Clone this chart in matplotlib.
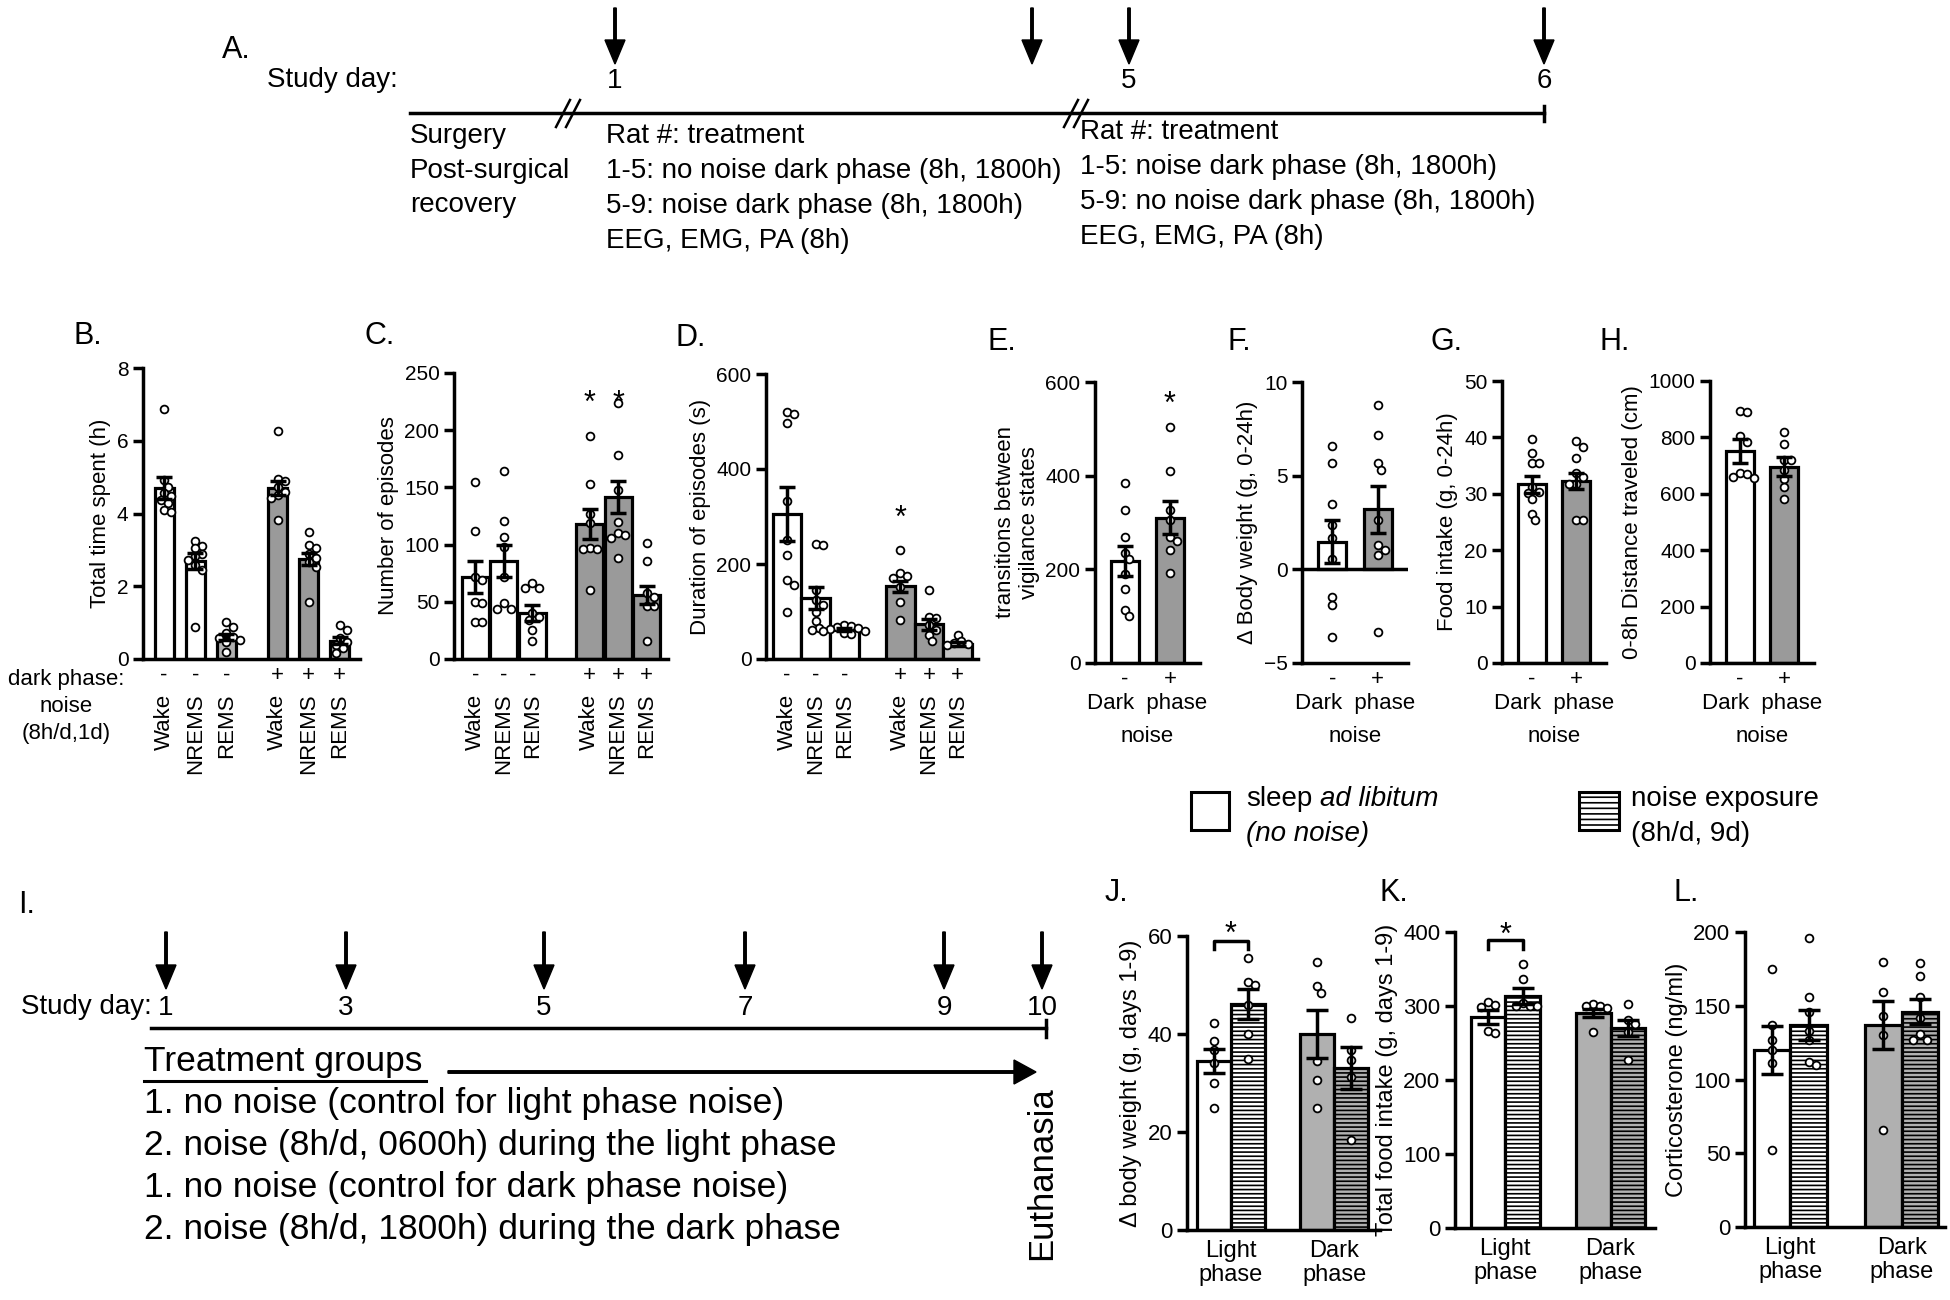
import numpy as np
import matplotlib.pyplot as plt
from matplotlib.patches import Rectangle, FancyArrow

plt.rcParams['font.family'] = ['Liberation Sans', 'DejaVu Sans']
plt.rcParams['hatch.linewidth'] = 1.2

# ---- data ----
states = ['Wake', 'NREMS', 'REMS', 'Wake', 'NREMS', 'REMS']
signs6 = ['-', '-', '-', '+', '+', '+']

time_mean = [4.7, 2.7, 0.6, 4.7, 2.75, 0.5]
time_err = [0.3, 0.22, 0.08, 0.2, 0.17, 0.1]
time_pts = [[6.87, 4.93, 4.74, 4.56, 4.47, 4.38, 4.28, 4.1, 4.05],
            [3.25, 3.12, 3.05, 2.9, 2.82, 2.72, 2.59, 2.45, 0.89],
            [1.03, 0.89, 0.71, 0.61, 0.57, 0.52, 0.48, 0.2],
            [6.26, 4.94, 4.88, 4.74, 4.6, 4.51, 4.42, 3.83],
            [3.5, 3.14, 3.05, 2.9, 2.77, 2.68, 2.54, 1.58],
            [0.94, 0.8, 0.57, 0.48, 0.39, 0.29, 0.16]]

epi_num_mean = [72, 86, 40, 118, 142, 56]
epi_num_err = [14, 14, 7, 13, 14, 8]
epi_num_pts = [[155, 112, 72, 69, 50, 49, 32, 32],
               [164, 121, 107, 98, 72, 49, 44, 44],
               [66, 62, 62, 40, 37, 34, 25, 16],
               [195, 153, 127, 119, 97, 96, 96, 60],
               [224, 178, 148, 120, 110, 108, 106, 88],
               [101, 86, 58, 54, 46, 46, 16]]

epi_dur_mean = [305, 128, 62, 153, 73, 32]
epi_dur_err = [57, 23, 4, 12, 11, 4]
epi_dur_pts = [[521, 516, 497, 332, 251, 219, 167, 156, 100],
               [242, 240, 145, 124, 114, 100, 79, 65, 61],
               [72, 70, 68, 66, 64, 60, 58, 55, 52],
               [230, 181, 174, 170, 152, 121, 82],
               [145, 89, 86, 72, 61, 51, 37],
               [51, 37, 33, 32, 30]]

signs2 = ['-', '+']
trans_mean = [218, 310]
trans_err = [32, 35]
trans_pts = [[384, 326, 270, 235, 221, 189, 157, 114, 100],
             [504, 409, 326, 306, 270, 260, 242, 192]]

bw_mean = [1.47, 3.2]
bw_err = [1.15, 1.25]
bw_pts = [[6.57, 5.65, 3.5, 2.36, 1.65, 0.53, -1.46, -1.9, -3.59],
          [8.79, 7.19, 5.65, 5.29, 2.63, 1.3, 1.03, 0.76, -3.37]]

food_mean = [31.7, 32.3]
food_err = [1.5, 1.4]
food_pts = [[39.8, 37.2, 35.5, 35.5, 31.2, 30.4, 30.1, 29.0, 26.5, 25.3],
            [39.3, 38.3, 36.3, 33.6, 33.0, 31.8, 31.8, 25.3, 25.3]]

dist_mean = [751, 696]
dist_err = [42, 33]
dist_pts = [[895, 890, 805, 785, 675, 670, 660, 655],
            [820, 776, 720, 720, 684, 654, 625, 580]]

phases = ['Light\nphase', 'Dark\nphase']
dbw_mean = [34.5, 46.1, 40.1, 33.1]
dbw_err = [2.5, 3.1, 4.9, 4.3]
dbw_pts = [[42.2, 38.6, 36.7, 34.0, 29.9, 24.8],
           [55.6, 50.7, 50.0, 45.9, 40.1, 35.0],
           [54.6, 49.8, 48.4, 34.4, 30.6, 24.8],
           [43.2, 36.7, 34.7, 31.3, 18.4]]

tfi_mean = [285, 314, 290, 270]
tfi_err = [9.5, 11, 5.5, 10.5]
tfi_pts = [[306, 301, 299, 266, 264],
           [357, 337, 304, 300, 300, 300],
           [303, 300, 300, 297, 265],
           [303, 281, 276, 265, 227]]

cort_mean = [120, 137, 137, 146]
cort_err = [16.5, 10, 16, 8.5]
cort_pts = [[175, 137, 127, 120, 111, 52],
            [196, 156, 146, 133, 127, 112, 110],
            [180, 159, 143, 130, 66],
            [179, 170, 156, 142, 131, 127, 127]]

a_days = ['1', '', '5', '6']
i_days = ['1', '3', '5', '7', '9', '10']

GRAY = '#9a9a9a'
LGRAY = '#b0b0b0'

W, H = 1950, 1300
fig = plt.figure(figsize=(W / 100, H / 100), dpi=100)

ov = fig.add_axes([0, 0, 1, 1], zorder=0)
ov.set_xlim(0, W)
ov.set_ylim(H, 0)
ov.axis('off')


def txt(x, y, s, size=20, **kw):
    kw.setdefault('va', 'center')
    ov.text(x, y, s, fontsize=size, **kw)


def swarm(vals, ypx, d=7.0):
    # spread overlapping points sideways, in pixel units
    placed, out = [], []
    s = 0.5 * d
    for v in vals:
        y = v * ypx
        for k in range(60):
            m = (k + 1) // 2
            x = m * s * (1 if k % 2 else -1)
            if all(np.hypot(x - px, y - py) >= d for px, py in placed):
                break
        placed.append((x, y))
        out.append(x)
    return np.array(out)


def star(ax, x, y, size=22):
    ax.annotate('*', xy=(x, y), xytext=(0, -13), textcoords='offset points',
                ha='center', va='baseline', fontsize=size, annotation_clip=False)


def panel(rect, xpos, xlim, width, means, errs, pts, colors, hatches,
          ylim, yticks, ylabel, capsize=6):
    l, t, r, b = rect
    ax = fig.add_axes([l / W, 1 - b / H, (r - l) / W, (b - t) / H])
    ax.patch.set_alpha(0)
    bars = ax.bar(xpos, means, width=width, color=colors, edgecolor='black',
                  linewidth=2.3, zorder=2)
    for p, h in zip(bars, hatches):
        if h:
            p.set_hatch(h)
    xpx = (r - l) / (xlim[1] - xlim[0])
    ypx = (b - t) / (ylim[1] - ylim[0])
    for x, v in zip(xpos, pts):
        offs = swarm(v, ypx) / xpx
        ax.plot(x + offs, v, 'o', ms=5.6, mfc='white', mec='black', mew=1.3,
                zorder=3, clip_on=False)
    ax.errorbar(xpos, means, yerr=errs, fmt='none', ecolor='black',
                elinewidth=2.5, capsize=capsize, capthick=2.5, zorder=4)
    ax.set_xlim(xlim)
    ax.set_ylim(ylim)
    ax.set_yticks(yticks)
    ax.set_ylabel(ylabel, fontsize=16)
    for s in ['top', 'right']:
        ax.spines[s].set_visible(False)
    for s in ['left', 'bottom']:
        ax.spines[s].set_linewidth(2.5)
    ax.tick_params(axis='y', length=7, width=2.5, labelsize=15)
    ax.tick_params(axis='x', length=0, labelsize=16, pad=4)
    return ax


def state_labels(ax, xpos):
    ax.set_xticks(xpos, signs6)
    for x, s in zip(xpos, states):
        ax.annotate(s, xy=(x, 0), xycoords=('data', 'axes fraction'),
                    xytext=(0, -25), textcoords='offset points', rotation=90,
                    ha='center', va='top', fontsize=16)


def noise_labels(ax):
    ax.set_xticks([0, 1], signs2)
    ax.annotate('Dark  phase', xy=(0.5, 0), xycoords=('data', 'axes fraction'),
                xytext=(0, -29), textcoords='offset points', ha='center',
                va='center', fontsize=16)
    ax.annotate('noise', xy=(0.5, 0), xycoords=('data', 'axes fraction'),
                xytext=(0, -53), textcoords='offset points', ha='center',
                va='center', fontsize=16)


# ---- B ----
pos_b = [0, 1, 2, 3.65, 4.65, 5.65]
ax = panel((143, 368, 360, 659), pos_b, (-0.68, 6.3), 0.62, time_mean, time_err,
           time_pts, ['white', 'white', LGRAY, GRAY, GRAY, LGRAY], [None] * 6,
           (0, 8), [0, 2, 4, 6, 8], 'Total time spent (h)')
state_labels(ax, pos_b)

# ---- C ----
pos_c = [0, 1, 2, 4, 5, 6]
ax = panel((454, 373, 668, 659), pos_c, (-0.75, 6.75), 0.95, epi_num_mean,
           epi_num_err, epi_num_pts, ['white'] * 3 + [GRAY] * 3, [None] * 6,
           (0, 250), [0, 50, 100, 150, 200, 250], 'Number of episodes')
state_labels(ax, pos_c)
star(ax, pos_c[3], 232)
star(ax, pos_c[4], 232)

# ---- D ----
pos_d = [0, 1, 2, 3.95, 4.95, 5.95]
ax = panel((766, 374, 978, 659), pos_d, (-0.73, 6.66), 1.0, epi_dur_mean,
           epi_dur_err, epi_dur_pts, ['white'] * 3 + [GRAY, GRAY, '#c4c4c4'],
           [None] * 6, (0, 600), [0, 200, 400, 600], 'Duration of episodes (s)')
state_labels(ax, pos_d)
star(ax, pos_d[3], 317)

# ---- E-H ----
pos2 = [0, 1]
xl2 = (-0.67, 1.67)
ax = panel((1095, 382, 1200, 663), pos2, xl2, 0.62, trans_mean, trans_err,
           trans_pts, ['white', GRAY], [None, None], (0, 600), [0, 200, 400, 600],
           'transitions between\nvigilance states')
noise_labels(ax)
star(ax, 1, 573)

ax = panel((1302, 382, 1408, 663), pos2, xl2, 0.62, bw_mean, bw_err, bw_pts,
           ['white', GRAY], [None, None], (-5, 10), [-5, 0, 5, 10],
           '\u0394 Body weight (g, 0-24h)')
ax.axhline(0, color='black', lw=2.5, zorder=5)
noise_labels(ax)

ax = panel((1502, 381, 1606, 663), pos2, xl2, 0.62, food_mean, food_err,
           food_pts, ['white', GRAY], [None, None], (0, 50),
           [0, 10, 20, 30, 40, 50], 'Food intake (g, 0-24h)')
noise_labels(ax)

ax = panel((1710, 381, 1814, 663), pos2, xl2, 0.62, dist_mean, dist_err,
           dist_pts, ['white', GRAY], [None, None], (0, 1000),
           [0, 200, 400, 600, 800, 1000], '0-8h Distance traveled (cm)')
noise_labels(ax)

# ---- J-L ----
pos4 = [0, 1, 3.05, 4.05]
cols4 = ['white', 'white', LGRAY, LGRAY]
hat4 = [None, '----', None, '----']


def phase_labels(ax):
    ax.set_xticks([0.5, 3.55], phases, fontsize=17, linespacing=1.15)
    ax.tick_params(axis='x', pad=7, labelsize=17)
    ax.tick_params(axis='y', labelsize=16)
    ax.yaxis.label.set_fontsize(17)


def bracket(ax, y, leg):
    ax.plot([0, 0, 1, 1], [y - leg, y, y, y - leg], color='black', lw=2.5,
            zorder=5, clip_on=False)


ax = panel((1187, 936, 1380, 1230), pos4, (-0.79, 4.89), 1.0, dbw_mean, dbw_err,
           dbw_pts, cols4, hat4, (0, 60), [0, 20, 40, 60],
           '\u0394 body weight (g, days 1-9)', capsize=8)
phase_labels(ax)
bracket(ax, 59, 1.6)
star(ax, 0.5, 62.3)

ax = panel((1455, 932, 1655, 1228), pos4, (-0.96, 4.84), 1.0, tfi_mean, tfi_err,
           tfi_pts, cols4, hat4, (0, 400), [0, 100, 200, 300, 400],
           'Total food intake (g, days 1-9)', capsize=8)
phase_labels(ax)
bracket(ax, 389, 12)
star(ax, 0.5, 408)

ax = panel((1745, 932, 1945, 1227), pos4, (-0.74, 4.74), 1.0, cort_mean,
           cort_err, cort_pts, cols4, hat4, (0, 200), [0, 50, 100, 150, 200],
           'Corticosterone (ng/ml)', capsize=8)
phase_labels(ax)

# ---- panel letters ----
for x, y, s in [(222, 50, 'A.'), (74, 336, 'B.'), (365, 336, 'C.'),
                (676, 338, 'D.'), (988, 342, 'E.'), (1228, 342, 'F.'),
                (1430, 342, 'G.'), (1600, 342, 'H.'), (18, 905, 'I.'),
                (1105, 893, 'J.'), (1380, 893, 'K.'), (1673, 893, 'L.')]:
    txt(x, y, s, size=22)

txt(66, 680, 'dark phase:', size=16, ha='center')
txt(66, 707, 'noise', size=16, ha='center')
txt(66, 733, '(8h/d,1d)', size=16, ha='center')


def down_arrow(x, y0, y1):
    ov.add_patch(FancyArrow(x, y0, 0, y1 - y0, width=2.5, head_width=20,
                            head_length=24, length_includes_head=True,
                            color='black'))


# ---- timeline A ----
a_x = [615, 1032, 1129, 1544]
txt(267, 80, 'Study day:')
for x, s in zip(a_x, a_days):
    down_arrow(x, 8, 64)
    txt(x, 81, s, ha='center')
ov.plot([410, 1544], [113, 113], color='black', lw=2.5)
ov.plot([1544, 1544], [106, 121], color='black', lw=2.5)
for bx in [556, 1064]:
    ov.plot([bx, bx + 14], [127, 100], color='black', lw=1.8)
    ov.plot([bx + 10, bx + 24], [127, 100], color='black', lw=1.8)
for i, s in enumerate(['Surgery', 'Post-surgical', 'recovery']):
    txt(410, 136 + 34.5 * i, s)
for i, s in enumerate(['Rat #: treatment', '1-5: no noise dark phase (8h, 1800h)',
                       '5-9: noise dark phase (8h, 1800h)', 'EEG, EMG, PA (8h)']):
    txt(606, 136 + 35 * i, s)
for i, s in enumerate(['Rat #: treatment', '1-5: noise dark phase (8h, 1800h)',
                       '5-9: no noise dark phase (8h, 1800h)', 'EEG, EMG, PA (8h)']):
    txt(1080, 132 + 35 * i, s)

# ---- timeline I ----
i_x = [166, 346, 544, 745, 944, 1042]
txt(21, 1007, 'Study day:')
for x, s in zip(i_x, i_days):
    down_arrow(x, 932, 989)
    txt(x, 1008, s, ha='center')
ov.plot([151, 1046], [1028, 1028], color='black', lw=2.5)
ov.plot([1046, 1046], [1020, 1037], color='black', lw=2.5)
txt(144, 1062, 'Treatment groups', size=25.5)
ov.plot([144, 426], [1081, 1081], color='black', lw=2.2)
ov.add_patch(FancyArrow(448, 1072, 588, 0, width=2.5, head_width=24,
                        head_length=22, length_includes_head=True, color='black'))
for i, s in enumerate(['1. no noise (control for light phase noise)',
                       '2. noise (8h/d, 0600h) during the light phase',
                       '1. no noise (control for dark phase noise)',
                       '2. noise (8h/d, 1800h) during the dark phase']):
    txt(144, 1103 + 42.3 * i, s, size=25.5)
txt(1042, 1173, 'Euthanasia', size=25, rotation=90, ha='center')

# ---- legend ----
ov.add_patch(Rectangle((1191, 792), 38, 38, facecolor='white', edgecolor='black', lw=2.2))
ov.add_patch(Rectangle((1579, 792), 40, 38, facecolor='white', edgecolor='black',
                       lw=2.2, hatch='---'))
txt(1246, 799, 'sleep')
txt(1320, 799, 'ad libitum', style='italic')
txt(1246, 834, '(no noise)', style='italic')
txt(1631, 799, 'noise exposure')
txt(1631, 834, '(8h/d, 9d)')

fig.savefig('out.png', dpi=100)
